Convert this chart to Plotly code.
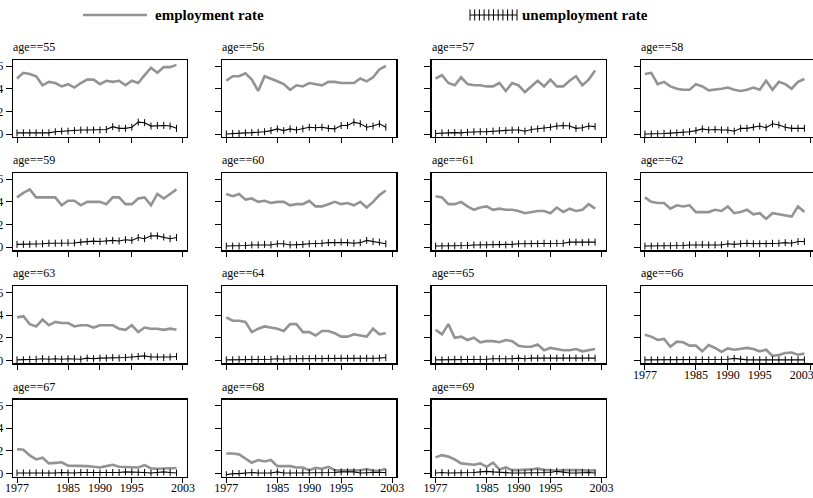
import plotly.graph_objects as go

YEARS = list(range(1977, 2003))
AGES = list(range(55, 70))

EMP = {
    55: [0.49, 0.54, 0.53, 0.51, 0.43, 0.46, 0.45, 0.42, 0.44, 0.41, 0.45, 0.48, 0.48, 0.44, 0.47, 0.46,
         0.47, 0.43, 0.47, 0.45, 0.52, 0.585, 0.54, 0.59, 0.59, 0.61],
    56: [0.47, 0.51, 0.51, 0.535, 0.48, 0.38, 0.51, 0.49, 0.465, 0.44, 0.39, 0.43, 0.42, 0.45, 0.44, 0.43,
         0.46, 0.46, 0.45, 0.45, 0.45, 0.49, 0.465, 0.50, 0.57, 0.60],
    57: [0.49, 0.52, 0.45, 0.43, 0.50, 0.44, 0.43, 0.43, 0.42, 0.42, 0.45, 0.38, 0.45, 0.43, 0.37, 0.42,
         0.47, 0.42, 0.48, 0.42, 0.42, 0.47, 0.51, 0.43, 0.48, 0.56],
    58: [0.53, 0.54, 0.44, 0.46, 0.42, 0.40, 0.39, 0.39, 0.44, 0.42, 0.385, 0.39, 0.40, 0.41, 0.39, 0.38,
         0.39, 0.41, 0.39, 0.47, 0.39, 0.46, 0.44, 0.40, 0.46, 0.485],
    59: [0.44, 0.48, 0.51, 0.44, 0.44, 0.44, 0.44, 0.37, 0.41, 0.41, 0.37, 0.40, 0.40, 0.40, 0.38, 0.44,
         0.44, 0.38, 0.38, 0.43, 0.44, 0.37, 0.47, 0.43, 0.47, 0.51],
    60: [0.47, 0.45, 0.47, 0.42, 0.43, 0.40, 0.41, 0.39, 0.40, 0.40, 0.37, 0.38, 0.38, 0.41, 0.36, 0.36,
         0.38, 0.40, 0.38, 0.39, 0.37, 0.40, 0.35, 0.40, 0.46, 0.50],
    61: [0.45, 0.44, 0.38, 0.38, 0.40, 0.36, 0.33, 0.35, 0.36, 0.33, 0.34, 0.33, 0.33, 0.32, 0.30, 0.31,
         0.32, 0.32, 0.30, 0.35, 0.31, 0.34, 0.32, 0.33, 0.38, 0.34],
    62: [0.44, 0.40, 0.39, 0.39, 0.34, 0.37, 0.36, 0.37, 0.31, 0.31, 0.31, 0.33, 0.32, 0.36, 0.30, 0.31,
         0.33, 0.29, 0.30, 0.25, 0.30, 0.29, 0.28, 0.27, 0.36, 0.31],
    63: [0.38, 0.39, 0.32, 0.30, 0.36, 0.31, 0.34, 0.33, 0.33, 0.30, 0.31, 0.31, 0.29, 0.31, 0.31, 0.31,
         0.28, 0.27, 0.31, 0.25, 0.29, 0.28, 0.28, 0.27, 0.28, 0.27],
    64: [0.38, 0.35, 0.35, 0.34, 0.25, 0.28, 0.30, 0.29, 0.28, 0.26, 0.32, 0.32, 0.25, 0.25, 0.22, 0.26,
         0.26, 0.24, 0.21, 0.21, 0.23, 0.22, 0.21, 0.28, 0.23, 0.24],
    65: [0.27, 0.23, 0.32, 0.20, 0.21, 0.18, 0.20, 0.16, 0.17, 0.17, 0.16, 0.18, 0.17, 0.13, 0.12, 0.12,
         0.14, 0.09, 0.11, 0.10, 0.09, 0.09, 0.10, 0.08, 0.09, 0.10],
    66: [0.226, 0.21, 0.18, 0.19, 0.12, 0.165, 0.16, 0.13, 0.13, 0.08, 0.135, 0.11, 0.076, 0.106, 0.094,
         0.10, 0.11, 0.10, 0.08, 0.094, 0.04, 0.047, 0.065, 0.07, 0.05, 0.06],
    67: [0.216, 0.21, 0.16, 0.125, 0.14, 0.09, 0.095, 0.10, 0.07, 0.07, 0.066, 0.066, 0.06, 0.054, 0.066,
         0.078, 0.06, 0.06, 0.06, 0.054, 0.075, 0.046, 0.043, 0.046, 0.046, 0.049],
    68: [0.178, 0.178, 0.17, 0.13, 0.096, 0.12, 0.107, 0.12, 0.066, 0.066, 0.066, 0.054, 0.054, 0.03,
         0.05, 0.043, 0.06, 0.03, 0.03, 0.03, 0.03, 0.03, 0.04, 0.025, 0.025, 0.043],
    69: [0.143, 0.163, 0.15, 0.125, 0.09, 0.084, 0.078, 0.09, 0.06, 0.096, 0.037, 0.054, 0.031, 0.031,
         0.031, 0.037, 0.046, 0.031, 0.031, 0.025, 0.031, 0.031, 0.037, 0.031, 0.025, 0.031],
}

UNEMP = {
    55: [0.01, 0.01, 0.01, 0.01, 0.01, 0.01, 0.02, 0.025, 0.025, 0.03, 0.035, 0.035, 0.035, 0.035, 0.04,
         0.065, 0.05, 0.05, 0.06, 0.105, 0.10, 0.07, 0.075, 0.075, 0.07, 0.05],
    56: [0.0, 0.005, 0.005, 0.01, 0.012, 0.015, 0.02, 0.03, 0.045, 0.03, 0.045, 0.035, 0.045, 0.06, 0.055,
         0.06, 0.05, 0.045, 0.075, 0.075, 0.105, 0.09, 0.06, 0.07, 0.09, 0.06],
    57: [0.005, 0.01, 0.01, 0.012, 0.01, 0.015, 0.02, 0.02, 0.02, 0.025, 0.03, 0.03, 0.035, 0.035, 0.025,
         0.04, 0.045, 0.05, 0.06, 0.07, 0.075, 0.07, 0.05, 0.055, 0.07, 0.065],
    58: [0.0, 0.0, 0.002, 0.005, 0.008, 0.01, 0.012, 0.02, 0.03, 0.045, 0.035, 0.04, 0.035, 0.035, 0.025,
         0.05, 0.05, 0.06, 0.07, 0.055, 0.09, 0.08, 0.06, 0.05, 0.05, 0.05],
    59: [0.025, 0.025, 0.025, 0.03, 0.03, 0.035, 0.035, 0.037, 0.04, 0.037, 0.045, 0.05, 0.054, 0.05, 0.055,
         0.06, 0.055, 0.066, 0.06, 0.085, 0.075, 0.1, 0.1, 0.09, 0.075, 0.085],
    60: [0.01, 0.01, 0.01, 0.015, 0.02, 0.02, 0.025, 0.02, 0.03, 0.03, 0.02, 0.02, 0.025, 0.03, 0.03,
         0.035, 0.04, 0.04, 0.045, 0.04, 0.035, 0.04, 0.06, 0.05, 0.045, 0.03],
    61: [0.01, 0.01, 0.01, 0.012, 0.015, 0.015, 0.02, 0.02, 0.02, 0.025, 0.025, 0.02, 0.025, 0.03, 0.03,
         0.03, 0.03, 0.035, 0.03, 0.035, 0.035, 0.045, 0.045, 0.04, 0.045, 0.045],
    62: [0.01, 0.01, 0.01, 0.012, 0.012, 0.015, 0.015, 0.02, 0.02, 0.025, 0.02, 0.02, 0.02, 0.03, 0.025,
         0.03, 0.035, 0.03, 0.03, 0.03, 0.035, 0.035, 0.04, 0.035, 0.05, 0.05],
    63: [0.005, 0.005, 0.01, 0.01, 0.015, 0.01, 0.015, 0.01, 0.015, 0.015, 0.01, 0.02, 0.015, 0.02, 0.02,
         0.025, 0.02, 0.025, 0.03, 0.035, 0.04, 0.03, 0.03, 0.025, 0.03, 0.035],
    64: [0.005, 0.005, 0.01, 0.01, 0.01, 0.01, 0.01, 0.01, 0.015, 0.01, 0.015, 0.015, 0.015, 0.015, 0.02,
         0.015, 0.02, 0.02, 0.02, 0.02, 0.02, 0.015, 0.02, 0.015, 0.02, 0.025],
    65: [0.005, 0.005, 0.005, 0.01, 0.01, 0.01, 0.01, 0.01, 0.01, 0.015, 0.015, 0.01, 0.015, 0.02, 0.015,
         0.02, 0.02, 0.02, 0.02, 0.02, 0.025, 0.02, 0.02, 0.02, 0.025, 0.02],
    66: [0.005, 0.005, 0.005, 0.005, 0.005, 0.005, 0.005, 0.005, 0.005, 0.005, 0.005, 0.005, 0.005, 0.01,
         0.018, 0.01, 0.005, 0.005, 0.005, 0.005, 0.005, 0.005, 0.005, 0.005, 0.005, 0.005],
    67: [0.005, 0.005, 0.005, 0.005, 0.005, 0.0, 0.005, 0.01, 0.005, 0.005, 0.01, 0.01, 0.005, 0.005, 0.005,
         0.01, 0.01, 0.015, 0.015, 0.01, 0.01, 0.005, 0.01, 0.015, 0.01, 0.005],
    68: [-0.01, 0.0, 0.0, 0.005, 0.01, 0.005, 0.005, 0.005, 0.015, 0.005, 0.005, 0.005, 0.01, 0.01, 0.005,
         0.005, 0.01, 0.01, 0.015, 0.015, 0.015, 0.005, 0.01, 0.01, 0.01, 0.01],
    69: [0.005, 0.01, 0.005, 0.005, 0.005, 0.005, 0.01, 0.015, 0.02, 0.015, 0.01, 0.005, 0.005, 0.005,
         0.005, 0.01, 0.01, 0.01, 0.01, 0.02, 0.01, 0.005, 0.005, 0.01, 0.01, 0.005],
}

X_TICKS = [1977, 1985, 1990, 1995, 2003]
X_TICKTEXT = ["1977", "1985", "1990", "1995", "2003"]
Y_TICKS = [0, 0.2, 0.4, 0.6]
Y_TICKTEXT = ["0", ".2", ".4", ".6"]
LEGEND_LABELS = ["employment rate", "unemployment rate"]
PANEL_TITLE = "age=={}"

W, H = 813, 498
FONT = "Liberation Serif, DejaVu Serif, Times New Roman, serif"
GRAY = "#939393"
CLEAR = "rgba(0,0,0,0)"
NBSP = "\u00a0"

# layout geometry (pixels)
COL_LEFT0, COL_STEP, BOX_W = 13.0, 209.3, 174.0
ZERO0, ROW_STEP = 134.0, 113.2
PX_PER_UNIT = 113.3
PX_PER_YEAR = 6.38
BOX_ABOVE, BOX_BELOW = 74.0, 3.0

fig = go.Figure()
layout_axes = {}
annotations = []

for k, age in enumerate(AGES):
    r, c = divmod(k, 4)
    n = k + 1
    xa = "x" if n == 1 else f"x{n}"
    ya = "y" if n == 1 else f"y{n}"
    left = COL_LEFT0 + COL_STEP * c
    right = min(left + BOX_W, W)
    zero = ZERO0 + ROW_STEP * r
    top = zero - BOX_ABOVE
    bottom = zero + BOX_BELOW
    x0 = 1977 - 4 / PX_PER_YEAR
    x1 = x0 + (right - left) / PX_PER_YEAR
    y0 = -BOX_BELOW / PX_PER_UNIT
    y1 = BOX_ABOVE / PX_PER_UNIT

    fig.add_trace(go.Scatter(x=YEARS, y=EMP[age], mode="lines", xaxis=xa, yaxis=ya,
                             line=dict(color=GRAY, width=2.6), showlegend=False, hoverinfo="skip"))
    fig.add_trace(go.Scatter(x=YEARS, y=UNEMP[age], mode="lines+markers", xaxis=xa, yaxis=ya,
                             line=dict(color="black", width=1.1),
                             marker=dict(symbol="line-ns", size=5, color="black",
                                         line=dict(width=1, color="black")),
                             showlegend=False, hoverinfo="skip"))

    show_xlab = (k + 4) >= len(AGES)
    ticktext = list(X_TICKTEXT)
    if c == 3:  # last column touches the right edge: keep the last label inside the page
        ticktext[-1] = ticktext[-1] + NBSP * 6
    layout_axes["xaxis" if n == 1 else f"xaxis{n}"] = dict(
        domain=[left / W, right / W], range=[x0, x1], anchor=ya,
        tickvals=X_TICKS, ticktext=ticktext, ticks="outside", ticklen=5, tickwidth=1,
        tickcolor="black", showticklabels=show_xlab, ticklabelstandoff=-5,
        ticklabeloverflow="allow", showgrid=False, zeroline=False,
        showline=True, linecolor="black", linewidth=1.3, mirror=True,
        tickfont=dict(family=FONT, size=12, color="black"), automargin=False)
    layout_axes["yaxis" if n == 1 else f"yaxis{n}"] = dict(
        domain=[1 - bottom / H, 1 - top / H], range=[y0, y1], anchor=xa,
        tickvals=Y_TICKS, ticktext=Y_TICKTEXT, ticks="outside", ticklen=6, tickwidth=1,
        tickcolor="black", showticklabels=(c == 0), ticklabeloverflow="allow",
        showgrid=False, zeroline=False,
        showline=True, linecolor="black", linewidth=1.3, mirror=True,
        tickfont=dict(family=FONT, size=12, color="black"), automargin=False)

    annotations.append(dict(text=PANEL_TITLE.format(age), xref="paper", yref="paper",
                            x=(left - 2) / W, y=1 - (top - 13) / H, xanchor="left", yanchor="middle",
                            showarrow=False, font=dict(family=FONT, size=12, color="black")))

# legend keys (drawn on a transparent overlay axis)
LEG_Y = 1 - 15 / H
fig.add_trace(go.Scatter(x=[83 / W, 147 / W], y=[LEG_Y, LEG_Y], mode="lines",
                         line=dict(color=GRAY, width=2.6), xaxis="x16", yaxis="y16",
                         showlegend=False, hoverinfo="skip"))
n_key = 11
kx0, kx1 = 470 / W, 517 / W
fig.add_trace(go.Scatter(x=[kx0 + (kx1 - kx0) * i / (n_key - 1) for i in range(n_key)],
                         y=[LEG_Y] * n_key, mode="lines+markers",
                         line=dict(color="black", width=1.1),
                         marker=dict(symbol="line-ns", size=8, color="black",
                                     line=dict(width=1, color="black")),
                         xaxis="x16", yaxis="y16", showlegend=False, hoverinfo="skip"))
layout_axes["xaxis16"] = dict(domain=[0, 1], range=[0, 1], visible=False, fixedrange=True)
layout_axes["yaxis16"] = dict(domain=[0, 1], range=[0, 1], visible=False, fixedrange=True)

annotations.append(dict(text="<b>%s</b>" % LEGEND_LABELS[0], xref="paper", yref="paper",
                        x=153 / W, y=LEG_Y, xanchor="left", yanchor="middle", showarrow=False,
                        font=dict(family=FONT, size=15, color="black")))
annotations.append(dict(text="<b>%s</b>" % LEGEND_LABELS[1], xref="paper", yref="paper",
                        x=520 / W, y=LEG_Y, xanchor="left", yanchor="middle", showarrow=False,
                        font=dict(family=FONT, size=15, color="black")))

fig.update_layout(width=W, height=H, margin=dict(l=0, r=0, t=0, b=0),
                  paper_bgcolor="white", plot_bgcolor=CLEAR, template="none",
                  annotations=annotations, showlegend=False, **layout_axes)

fig.write_html("out.html", config={"displayModeBar": False, "staticPlot": True},
               post_script="document.body.style.margin='0';")
